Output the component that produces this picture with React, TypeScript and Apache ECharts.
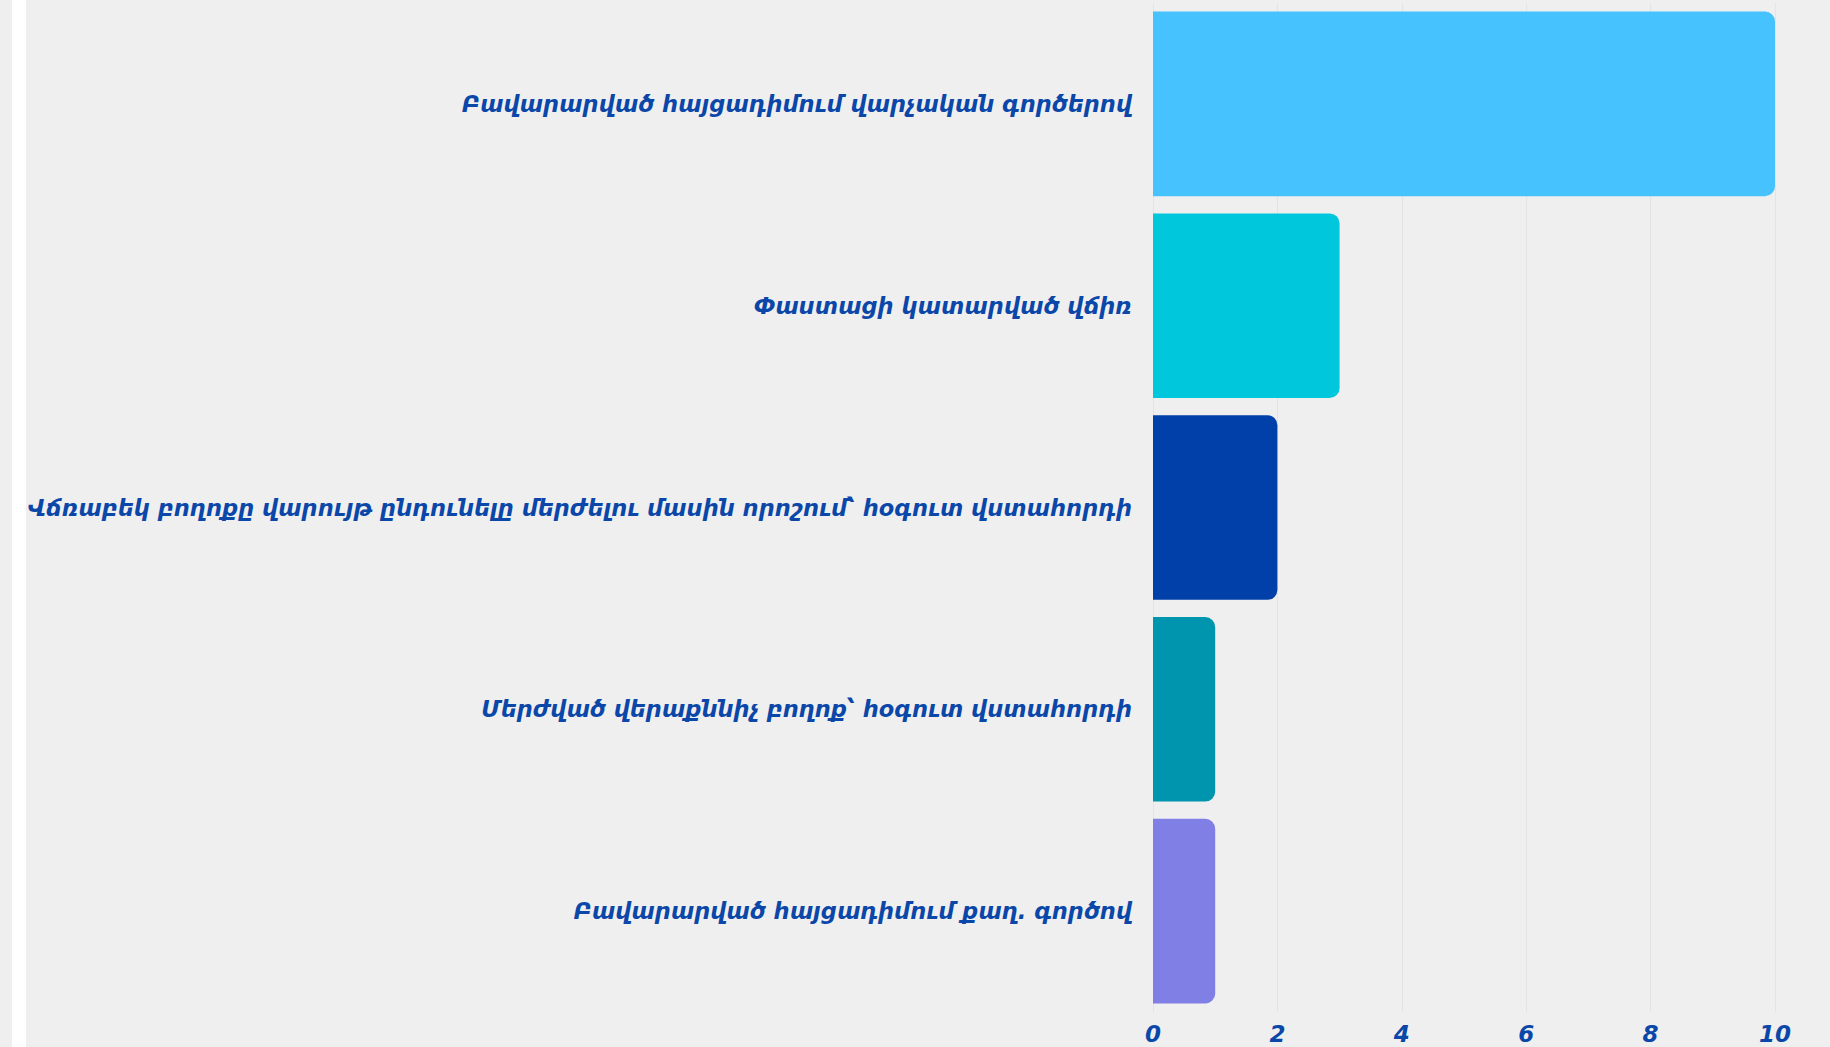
import React, { useEffect, useRef } from "react";
import * as echarts from "echarts";

const categories = [
  "Բավարարված հայցադիմում վարչական գործերով",
  "Փաստացի կատարված վճիռ",
  "Վճռաբեկ բողոքը վարույթ ընդունելը մերժելու մասին որոշում՝ հօգուտ վստահորդի",
  "Մերժված վերաքննիչ բողոք՝ հօգուտ վստահորդի",
  "Բավարարված հայցադիմում քաղ․ գործով",
];
const values = [10, 3, 2, 1, 1];
const barColors = ["#46c3fe", "#00c7dc", "#0040a8", "#0095ae", "#7f7fe6"];
const xTicks = [0, 2, 4, 6, 8, 10];

export default function App() {
  const ref = useRef<HTMLDivElement>(null);
  useEffect(() => {
    if (!ref.current) return;
    const chart = echarts.init(ref.current, null, { renderer: "svg" });
    chart.setOption({
      animation: false,
      backgroundColor: "#efefef",
      graphic: [
        { type: "rect", shape: { x: 12, y: 0, width: 14, height: 1047 }, style: { fill: "#ffffff" }, silent: true },
      ],
      grid: { left: 1153, right: 55, top: 3, bottom: 35, containLabel: false },
      xAxis: {
        type: "value",
        min: xTicks[0],
        max: xTicks[xTicks.length - 1],
        interval: 2,
        axisLine: { show: false },
        axisTick: { show: false },
        splitLine: { show: true, lineStyle: { color: "#e1e5e8", width: 1 } },
        axisLabel: {
          color: "#0a47a9",
          fontSize: 23,
          fontStyle: "italic",
          fontWeight: "bold",
          fontFamily: "DejaVu Sans",
          margin: 10,
        },
      },
      yAxis: {
        type: "category",
        data: categories,
        inverse: true,
        axisLine: { show: false },
        axisTick: { show: false },
        splitLine: { show: false },
        axisLabel: {
          color: "#0a47a9",
          fontSize: 22.5,
          fontStyle: "italic",
          fontWeight: "bold",
          fontFamily: "DejaVu Sans",
          margin: 21,
        },
      },
      series: [
        {
          type: "bar",
          data: values.map((v, i) => ({ value: v, itemStyle: { color: barColors[i] } })),
          barCategoryGap: "8.5%",
          itemStyle: { borderRadius: [0, 10, 10, 0] },
        },
      ],
    });
    return () => chart.dispose();
  }, []);
  return <div ref={ref} style={{ position: "absolute", left: 0, top: 0, width: 1830, height: 1047 }} />;
}
